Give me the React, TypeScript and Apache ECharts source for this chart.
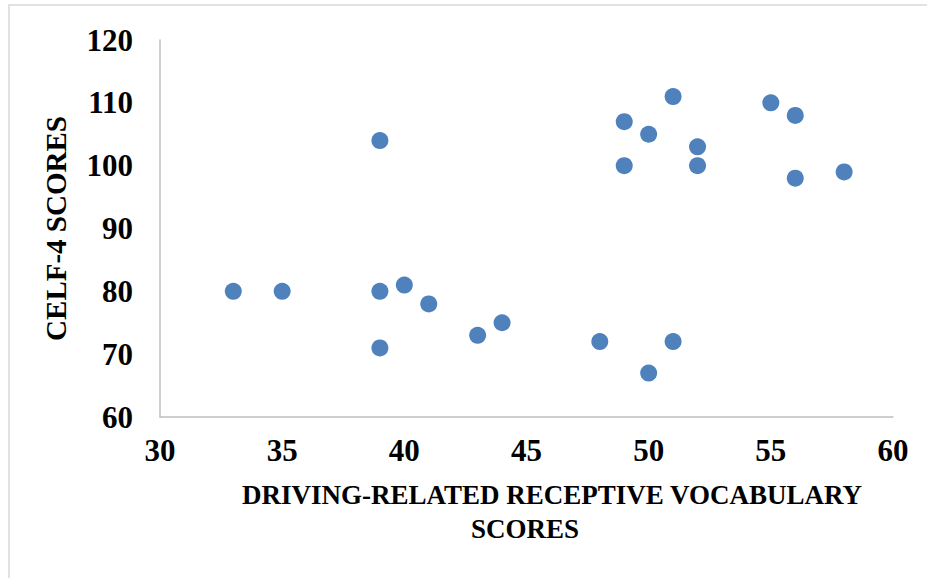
import React, { useEffect, useRef } from "react";
import * as echarts from "echarts";

const vocabScores = [33, 35, 39, 39, 39, 40, 41, 43, 44, 48, 49, 49, 50, 50, 51, 51, 52, 52, 55, 56, 56, 58];
const celfScores = [80, 80, 104, 80, 71, 81, 78, 73, 75, 72, 107, 100, 105, 67, 111, 72, 103, 100, 110, 108, 98, 99];
const xTitleLine1 = "DRIVING-RELATED RECEPTIVE VOCABULARY";
const xTitleLine2 = "SCORES";
const yTitle = "CELF-4 SCORES";

const FONT = '"Liberation Serif", "Times New Roman", serif';

export default function App() {
  const ref = useRef<HTMLDivElement>(null);
  useEffect(() => {
    document.body.style.margin = "0";
    const chart = echarts.init(ref.current!, null, { renderer: "svg" });
    const points = vocabScores.map((x, i) => [x, celfScores[i]]);
    chart.setOption({
      animation: false,
      backgroundColor: "#ffffff",
      grid: { left: 160, top: 40, right: 34, bottom: 161, containLabel: false },
      xAxis: {
        type: "value",
        min: 30,
        max: 60,
        interval: 5,
        axisLine: { show: true, lineStyle: { color: "#bfbfbf", width: 1.5 } },
        axisTick: { show: false },
        splitLine: { show: false },
        axisLabel: { color: "#000", fontFamily: FONT, fontWeight: "bold", fontSize: 31, margin: 18 },
      },
      yAxis: {
        type: "value",
        min: 60,
        max: 120,
        interval: 10,
        axisLine: { show: true, lineStyle: { color: "#bfbfbf", width: 1.5 } },
        axisTick: { show: false },
        splitLine: { show: false },
        axisLabel: { color: "#000", fontFamily: FONT, fontWeight: "bold", fontSize: 31, margin: 27 },
        name: yTitle,
        nameLocation: "middle",
        nameGap: 90,
        nameRotate: 90,
        nameTextStyle: { color: "#000", fontFamily: FONT, fontWeight: "bold", fontSize: 29 },
      },
      series: [
        {
          type: "scatter",
          data: points,
          symbol: "circle",
          symbolSize: 17,
          itemStyle: { color: "#4f81bd", opacity: 1 },
        },
      ],
      graphic: [
        {
          type: "rect",
          shape: { x: 9, y: 5, width: 1000, height: 1000 },
          style: { fill: "none", stroke: "#d9d9d9", lineWidth: 1.5 },
          silent: true,
        },
        {
          type: "text",
          x: 552,
          y: 495,
          style: {
            text: xTitleLine1,
            fill: "#000",
            font: `bold 27px ${FONT}`,
            textAlign: "center",
            textVerticalAlign: "middle",
          },
        },
        {
          type: "text",
          x: 525,
          y: 529,
          style: {
            text: xTitleLine2,
            fill: "#000",
            font: `bold 27px ${FONT}`,
            textAlign: "center",
            textVerticalAlign: "middle",
          },
        },
      ],
    });
    return () => chart.dispose();
  }, []);
  return <div ref={ref} style={{ width: 927, height: 578 }} />;
}
